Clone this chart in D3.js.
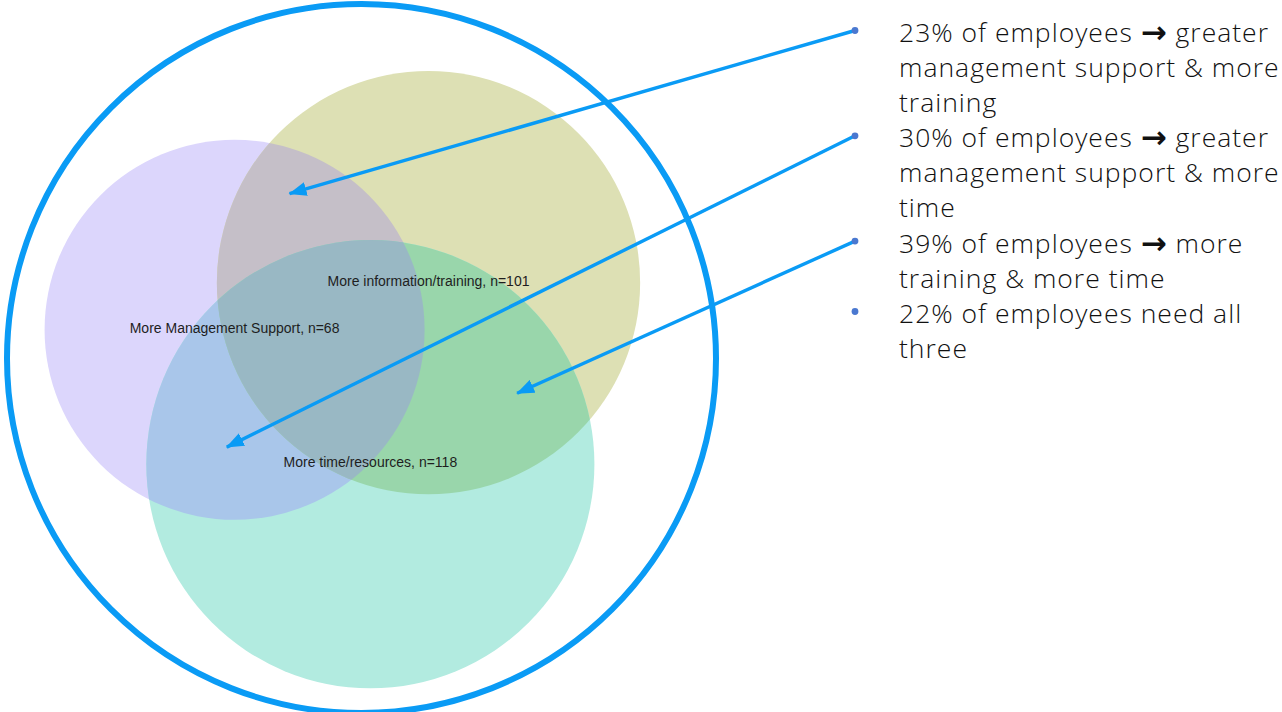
<!DOCTYPE html>
<html>
<head>
<meta charset="utf-8">
<script src="https://cdn.jsdelivr.net/npm/d3@7"></script>
<style>
  html, body { margin: 0; padding: 0; background: #fff; }
  svg { display: block; }
</style>
</head>
<body>
<svg id="chart" width="1282" height="712"></svg>
<script>
// ---------- data ----------
const sets = ["More Management Support", "More information/training", "More time/resources"];
const setSizes = [68, 101, 118];
const bulletPercents = [23, 30, 39, 22];
const bulletTexts = [
  ["23% of employees \u2192 greater", "management support & more", "training"],
  ["30% of employees \u2192 greater", "management support & more", "time"],
  ["39% of employees \u2192 more", "training & more time"],
  ["22% of employees need all", "three"]
];
// which pair of sets each bullet points at (indices into sets)
const bulletPairs = [[0, 1], [0, 2], [1, 2], null];

// ---------- layout (venn unit space, outer circle = radius 1) ----------
const setLayout = [
  { cx: -0.358, cy: -0.081, r: 0.536 },
  { cx: 0.189,  cy: -0.214, r: 0.597 },
  { cx: 0.025,  cy: 0.298,  r: 0.632 }
];
const arrowTargets = [
  { x: -0.203, y: -0.465 },
  { x: -0.380, y: 0.250 },
  { x: 0.439,  y: 0.098 }
];
const regionColors = {
  "0": "#dcd6fc", "1": "#dde0b4", "2": "#b2ebe0",
  "01": "#c5bfc8", "02": "#a9c6ea", "12": "#99d6ab", "012": "#99b8c4"
};

const svg = d3.select("#chart");
const outer = { cx: 361.5, cy: 358.5, r: 354.5 };
const x = d3.scaleLinear().domain([-1, 1]).range([outer.cx - outer.r, outer.cx + outer.r]);
const y = d3.scaleLinear().domain([-1, 1]).range([outer.cy - outer.r, outer.cy + outer.r]);
const rs = d3.scaleLinear().domain([0, 1]).range([0, outer.r]);

const defs = svg.append("defs");
setLayout.forEach((c, i) => {
  defs.append("clipPath").attr("id", "clip" + i)
    .append("circle").attr("cx", x(c.cx)).attr("cy", y(c.cy)).attr("r", rs(c.r));
});
defs.append("clipPath").attr("id", "clip01")
  .append("circle").attr("cx", x(setLayout[1].cx)).attr("cy", y(setLayout[1].cy)).attr("r", rs(setLayout[1].r))
  .attr("clip-path", "url(#clip0)");

defs.append("marker").attr("id", "arrow")
  .attr("viewBox", "0 0 18 14").attr("refX", 17).attr("refY", 7)
  .attr("markerWidth", 18).attr("markerHeight", 14)
  .attr("markerUnits", "userSpaceOnUse").attr("orient", "auto")
  .append("path").attr("d", "M0,0 L18,7 L0,14 Z").attr("fill", "#0a9bf5");

const venn = svg.append("g");
setLayout.forEach((c, i) => {
  venn.append("circle").attr("cx", x(c.cx)).attr("cy", y(c.cy)).attr("r", rs(c.r))
    .attr("fill", regionColors[String(i)]);
});
[[0, 1], [0, 2], [1, 2]].forEach(([a, b]) => {
  const c = setLayout[a];
  venn.append("circle").attr("cx", x(c.cx)).attr("cy", y(c.cy)).attr("r", rs(c.r))
    .attr("clip-path", "url(#clip" + b + ")")
    .attr("fill", regionColors["" + a + b]);
});
{
  const c = setLayout[2];
  venn.append("g").attr("clip-path", "url(#clip01)")
    .append("circle").attr("cx", x(c.cx)).attr("cy", y(c.cy)).attr("r", rs(c.r))
    .attr("fill", regionColors["012"]);
}

venn.selectAll("text.lbl").data(sets).join("text")
  .attr("class", "lbl")
  .attr("x", (d, i) => x(setLayout[i].cx))
  .attr("y", (d, i) => y(setLayout[i].cy) - 2)
  .attr("text-anchor", "middle")
  .attr("dominant-baseline", "central")
  .attr("font-family", "Liberation Sans, Arial, sans-serif")
  .attr("font-size", 14)
  .attr("fill", "#1e1e1e")
  .text((d, i) => `${d}, n=${setSizes[i]}`);

svg.append("circle").attr("cx", outer.cx).attr("cy", outer.cy).attr("r", outer.r)
  .attr("fill", "none").attr("stroke", "#0a9bf5").attr("stroke-width", 6);

const textX = 899, dotX = 855, lineH = 34.9, firstBaseline = 42;
let lineIdx = 0;
const bulletY = [];
const tg = svg.append("g");
bulletTexts.forEach((lines, bi) => {
  bulletY.push(firstBaseline + lineIdx * lineH - 11.5 + bi * 0.6);
  lines.forEach((ln) => {
    const t = tg.append("text")
      .attr("x", textX).attr("y", firstBaseline + lineIdx * lineH + bi * 0.6)
      .attr("font-family", "Open Sans, sans-serif").attr("font-weight", 300)
      .attr("font-size", 26.5).attr("letter-spacing", 1.0).attr("fill", "#111");
    const parts = ln.split("\u2192");
    t.append("tspan").text(parts[0]);
    if (parts.length > 1) {
      t.append("tspan").attr("font-family", "DejaVu Sans").attr("font-weight", 700)
        .attr("font-size", 31).attr("dy", 1).text("\u2192");
      t.append("tspan").attr("dy", -1).text(" " + parts[1].trim());
    }
    lineIdx++;
  });
});

bulletPairs.forEach((p, bi) => {
  if (!p) return;
  const tgt = arrowTargets[bi];
  svg.append("line")
    .attr("x1", dotX).attr("y1", bulletY[bi])
    .attr("x2", x(tgt.x)).attr("y2", y(tgt.y))
    .attr("stroke", "#0a9bf5").attr("stroke-width", 3.4)
    .attr("marker-end", "url(#arrow)");
});
svg.selectAll("circle.dot").data(bulletPercents).join("circle")
  .attr("class", "dot")
  .attr("cx", dotX).attr("cy", (d, i) => bulletY[i])
  .attr("r", 3.4).attr("fill", "#4a78d0");
</script>
</body>
</html>
